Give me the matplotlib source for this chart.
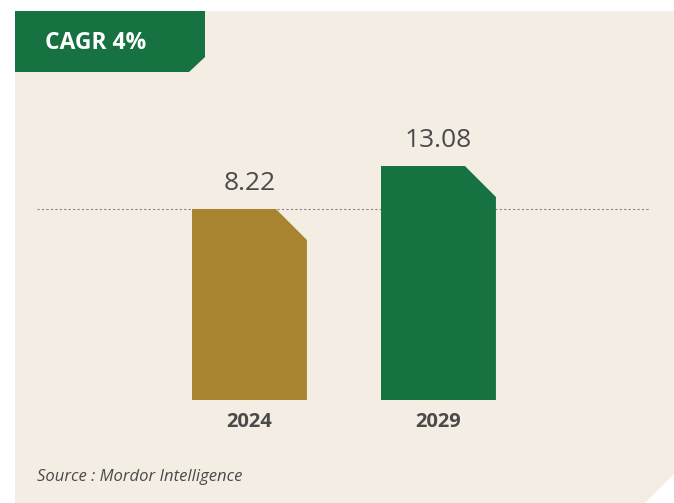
import matplotlib.pyplot as plt
from matplotlib.patches import Polygon

years = ["2024", "2029"]
values = [8.22, 13.08]
bar_colors = ["#A88430", "#167341"]
cagr_label = "CAGR 4%"
source_text = "Source : Mordor Intelligence"

W, H = 674, 503
bg = "#F4EDE3"
text_gray = "#4A4A4A"
plt.rcParams['font.family'] = ['Open Sans', 'DejaVu Sans']

fig = plt.figure(figsize=(W / 100, H / 100), dpi=100)
fig.patch.set_facecolor("white")

# overlay in pixel coordinates for the panel and banner
deco = fig.add_axes([0, 0, 1, 1])
deco.set_xlim(0, W)
deco.set_ylim(H, 0)
deco.axis("off")
deco.add_patch(Polygon([(15, 11), (W, 11), (W, 474), (645, H), (15, H)], closed=True,
                       facecolor=bg, edgecolor="none"))
deco.add_patch(Polygon([(15, 11), (205, 11), (205, 57), (189, 72), (15, 72)], closed=True,
                       facecolor="#167341", edgecolor="none"))
deco.text(45, 43, cagr_label, color="white", fontsize=16.5, fontweight="bold",
          ha="left", va="center")
deco.text(37, 477, source_text, color=text_gray, fontsize=12, style="italic",
          ha="left", va="center")

# bar axes: bars are not drawn from zero, baseline chosen to match the look
base = -13.36
ax = fig.add_axes([37 / W, (H - 400) / H, 613 / W, 300 / H])
ax.set_xlim(-1.124, 2.119)
ax.set_ylim(base, base + 300 / 8.85)
ax.axis("off")
ax.patch.set_alpha(0)

ax.axhline(values[0], color="#8C8C8C", linestyle=(0, (2, 2)), linewidth=0.8, zorder=1)

bw = 0.608
cut_x = 31 / 189
cut_y = 31 / 8.85
for i, (v, c) in enumerate(zip(values, bar_colors)):
    x0, x1 = i - bw / 2, i + bw / 2
    pts = [(x0, base), (x0, v), (x1 - cut_x, v), (x1, v - cut_y), (x1, base)]
    ax.add_patch(Polygon(pts, closed=True, facecolor=c, edgecolor="none", zorder=2))
    ax.text(i, v + 1.5, f"{v:.2f}", ha="center", va="bottom", fontsize=19, color=text_gray)
    ax.text(i, base - 1.4, years[i], ha="center", va="top", fontsize=14.5,
            fontweight="bold", color=text_gray)

fig.savefig("out.png", dpi=100, facecolor=fig.get_facecolor())
